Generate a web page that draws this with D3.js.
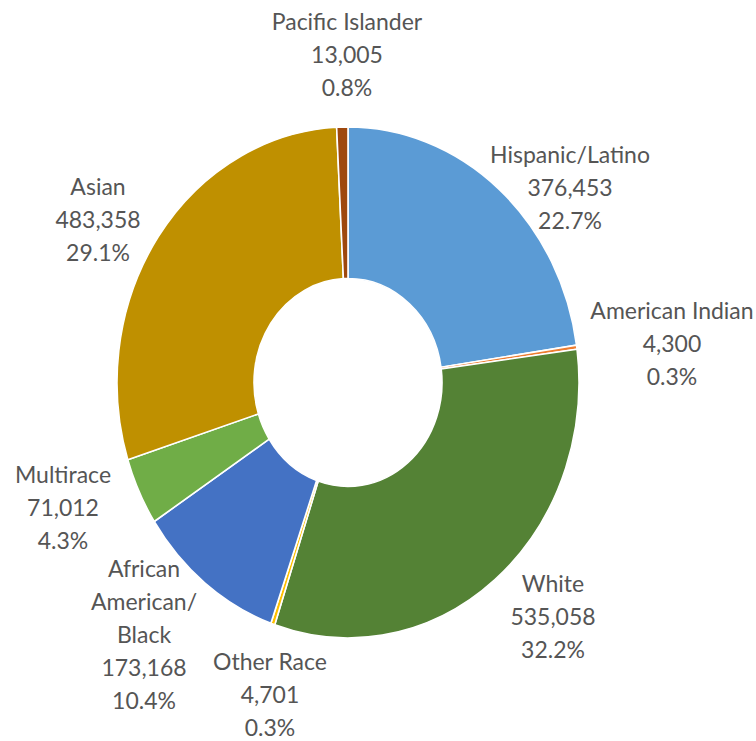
<!DOCTYPE html>
<html>
<head>
<meta charset="utf-8">
<script src="https://cdn.jsdelivr.net/npm/d3@7"></script>
<style>
  html, body { margin: 0; padding: 0; background: #fff; }
  svg { display: block; }
</style>
</head>
<body>
<svg id="chart" width="756" height="741"></svg>
<script>
// ---- data ----
const categories = ["Hispanic/Latino", "American Indian", "White", "Other Race",
                    "African American/Black", "Multirace", "Asian", "Pacific Islander"];
const values = [376453, 4300, 535058, 4701, 173168, 71012, 483358, 13005];
const percentLabels = ["22.7%", "0.3%", "32.2%", "0.3%", "10.4%", "4.3%", "29.1%", "0.8%"];
const nameLines = [["Hispanic/Latino"], ["American Indian"], ["White"], ["Other Race"],
                   ["African", "American/", "Black"], ["Multirace"], ["Asian"], ["Pacific Islander"]];
const colors = ["#5B9BD5", "#ED7D31", "#548235", "#FFC000", "#4472C4", "#70AD47", "#BF9000", "#9E480E"];

// ---- layout ----
const W = 756, H = 741;
const cx = 348, cy = 382.5;
const outerR = 231, innerR = 94, yStretch = 1.106;
const lineH = 33;
// label block centres (screen coordinates), by category index
const labelCentres = [[570, 187], [672, 343], [553, 616], [270, 694],
                      [144, 634], [63, 507], [98, 219], [347, 54]];

const svg = d3.select("#chart");
const data = categories.map((c, i) => ({ name: c, value: values[i], i }));

const pie = d3.pie().value(d => d.value).sort(null);
const arc = d3.arc().innerRadius(innerR).outerRadius(outerR);
const color = d3.scaleOrdinal().domain(categories).range(colors);
const fmt = d3.format(",");

const g = svg.append("g")
  .attr("transform", `translate(${cx},${cy}) scale(1,${yStretch})`);

g.selectAll("path")
  .data(pie(data))
  .join("path")
  .attr("d", arc)
  .attr("fill", d => color(d.data.name))
  .attr("stroke", "#fff")
  .attr("stroke-width", 1.6)
  .attr("vector-effect", "non-scaling-stroke");

// ---- labels ----
const labels = svg.append("g")
  .attr("font-family", "Lato, 'Open Sans', sans-serif")
  .attr("font-size", 23)
  .attr("fill", "#555555")
  .attr("text-anchor", "middle");

data.forEach((d, i) => {
  const lines = nameLines[i].concat([fmt(d.value), percentLabels[i]]);
  const [lx, ly] = labelCentres[i];
  const n = lines.length;
  lines.forEach((t, k) => {
    const yy = ly + (k - (n - 1) / 2) * lineH;
    labels.append("text")
      .attr("transform", `translate(${lx},${yy}) scale(1,1.03)`)
      .attr("dominant-baseline", "central")
      .text(t);
  });
});
</script>
</body>
</html>
